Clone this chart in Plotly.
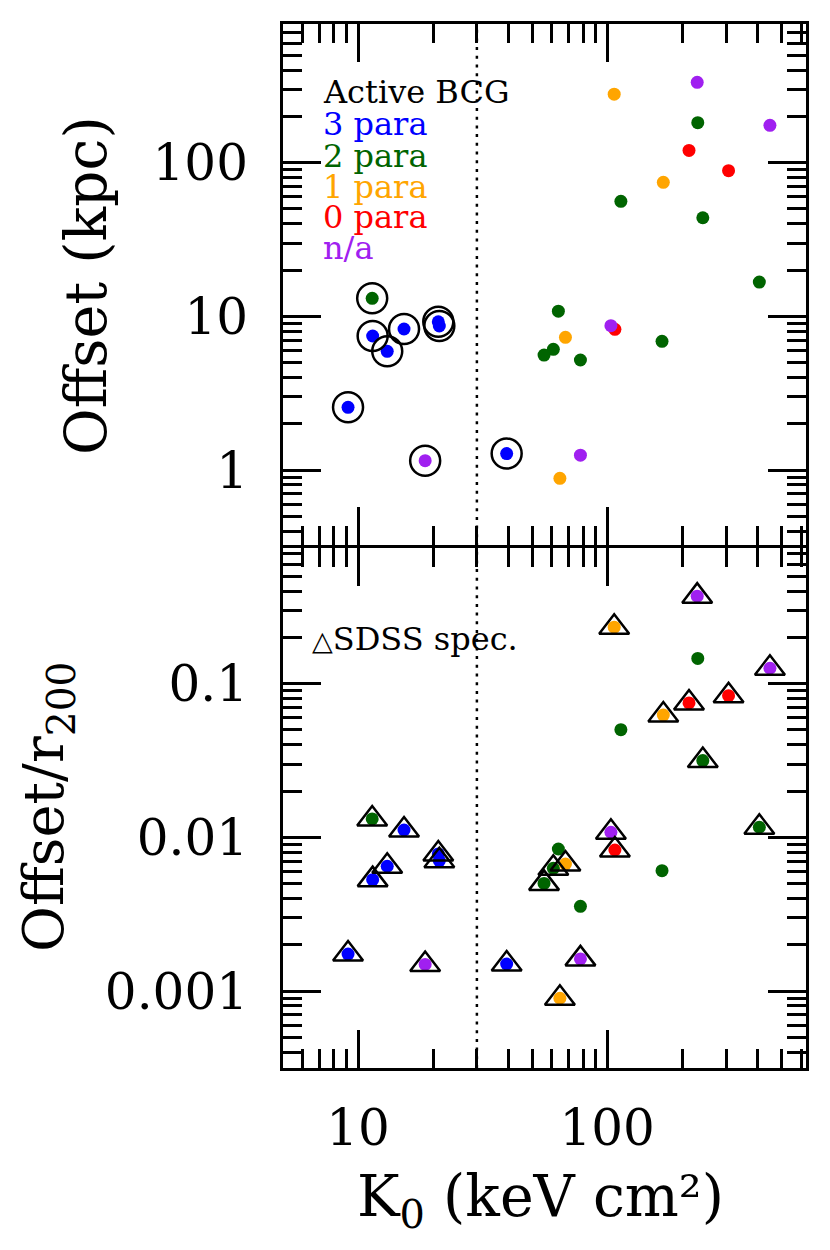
import math
import plotly.graph_objects as go

# ---- data ----
K0 = [106.7, 229.8, 231, 450, 213, 307, 168, 113.5, 242, 408,
      11.4, 11.45, 13.1, 15.3, 21.0, 21.2, 9.12, 18.6, 39.5,
      63.7, 103.5, 107.4, 68.0, 60.8, 55.8, 78.1, 166, 78.1, 64.6]
offset_kpc = [279, 333, 182, 175, 120, 88.6, 74.5, 56.0, 43.8, 16.7,
              13.1, 7.45, 5.92, 8.27, 9.22, 8.65, 2.56, 1.15, 1.28,
              10.8, 8.69, 8.23, 7.30, 6.10, 5.60, 5.20, 6.88, 1.25, 0.883]
offset_r200 = [0.233, 0.371, 0.146, 0.126, 0.0749, 0.0835, 0.0625, 0.0502, 0.0316, 0.01164,
               0.01318, 0.00531, 0.00649, 0.01117, 0.0078, 0.00705, 0.00174, 0.00149, 0.0015,
               0.0084, 0.0108, 0.00828, 0.00671, 0.00629, 0.00502, 0.00356, 0.00607, 0.00162, 0.000898]
n_para = ["1", "n/a", "2", "n/a", "0", "0", "1", "2", "2", "2",
          "2", "3", "3", "3", "3", "3", "3", "n/a", "3",
          "2", "n/a", "0", "1", "2", "2", "2", "2", "n/a", "1"]
active_bcg = [False] * 10 + [True] * 9 + [False] * 10
sdss_spec = [True, True, False, True, True, True, True, False, True, True,
             True, True, True, True, True, True, True, True, True,
             False, True, True, True, True, True, False, False, True, True]

categories = ["3", "2", "1", "0", "n/a"]
cat_labels = ["3 para", "2 para", "1 para", "0 para", "n/a"]
cat_colors = ["#0000ff", "#006400", "#ffa500", "#ff0000", "#a020f0"]
K0_divide = 30

x_ticks = [10, 100]
x_ticktext = ["10", "100"]
y1_ticks = [1, 10, 100]
y1_ticktext = ["1", "10", "100"]
y2_ticks = [0.001, 0.01, 0.1]
y2_ticktext = ["0.001", "0.01", "0.1"]

FONT = "DejaVu Serif"

# page body has an 8px default margin; figure sized to fit the 830x1250 window
W, H = 822, 1242
ML, MT = 275, 16
PW, PH = 523, 1044
MR = W - ML - PW
MB = H - MT - PH
GAP = 3.0  # px gap so the two axis lines at the panel boundary coincide

fig = go.Figure()

# colored dots
for cat, col in zip(categories, cat_colors):
    idx = [i for i, c in enumerate(n_para) if c == cat]
    fig.add_trace(go.Scatter(
        x=[K0[i] for i in idx], y=[offset_kpc[i] for i in idx],
        mode="markers", marker=dict(size=13, color=col),
        xaxis="x", yaxis="y", showlegend=False, hoverinfo="skip"))
    fig.add_trace(go.Scatter(
        x=[K0[i] for i in idx], y=[offset_r200[i] for i in idx],
        mode="markers", marker=dict(size=13, color=col),
        xaxis="x2", yaxis="y2", showlegend=False, hoverinfo="skip"))

# active BCG circles
ia = [i for i, a in enumerate(active_bcg) if a]
fig.add_trace(go.Scatter(
    x=[K0[i] for i in ia], y=[offset_kpc[i] for i in ia], mode="markers",
    marker=dict(symbol="circle-open", size=30, color="black", line=dict(width=2.5)),
    xaxis="x", yaxis="y", showlegend=False, hoverinfo="skip"))

# SDSS spec triangles
isd = [i for i, s in enumerate(sdss_spec) if s]
fig.add_trace(go.Scatter(
    x=[K0[i] for i in isd], y=[offset_r200[i] for i in isd], mode="markers",
    marker=dict(symbol="triangle-up-open", size=26, color="black", line=dict(width=2.5)),
    xaxis="x2", yaxis="y2", showlegend=False, hoverinfo="skip"))


def minor_vals(decades):
    return [m * d for d in decades for m in range(2, 10)]


axis_common = dict(
    type="log", showline=True, linewidth=3, linecolor="black", mirror="allticks",
    ticks="inside", ticklen=38, tickwidth=2.5, tickcolor="black",
    showgrid=False, zeroline=False, automargin=False,
    tickfont=dict(family=FONT, size=50, color="black"),
)
minor_common = dict(tickmode="array", ticks="inside", ticklen=19, tickwidth=2.5,
                    tickcolor="black", showgrid=False)

xr = [math.log10(5.0), math.log10(628)]
decade_px = 153.7
half = PH / 2 - GAP / 2
span = half / decade_px
y1_top = 2.902
y1_range = [y1_top - span, y1_top]
y2_top = -0.114
y2_range = [y2_top - span, y2_top]

fig.update_layout(
    width=W, height=H,
    margin=dict(l=ML, r=MR, t=MT, b=MB, pad=0),
    paper_bgcolor="white", plot_bgcolor="white",
    xaxis=dict(axis_common, domain=[0, 1], anchor="y", range=xr,
               tickmode="array", tickvals=x_ticks, ticktext=x_ticktext,
               showticklabels=False,
               minor=dict(minor_common, tickvals=minor_vals([1, 10, 100]))),
    xaxis2=dict(axis_common, domain=[0, 1], anchor="y2", range=xr,
                tickmode="array", tickvals=x_ticks, ticktext=x_ticktext,
                ticklabelstandoff=14,
                minor=dict(minor_common, tickvals=minor_vals([1, 10, 100]))),
    yaxis=dict(axis_common, domain=[1 - half / PH, 1], anchor="x", range=y1_range,
               tickmode="array", tickvals=y1_ticks, ticktext=y1_ticktext,
               ticklabelstandoff=22,
               minor=dict(minor_common, tickvals=minor_vals([0.1, 1, 10, 100]))),
    yaxis2=dict(axis_common, domain=[0, half / PH], anchor="x2", range=y2_range,
                tickmode="array", tickvals=y2_ticks, ticktext=y2_ticktext,
                ticklabelstandoff=22,
                minor=dict(minor_common, tickvals=minor_vals([0.0001, 0.001, 0.01, 0.1]))),
)

# dotted divider
fig.add_shape(type="line", xref="x", yref="paper", x0=K0_divide, x1=K0_divide, y0=0, y1=1,
              line=dict(color="black", width=2.5, dash="3px,5.7px"))


def px_x(px):  # reference page pixel -> paper
    return (px - 8 - ML) / PW


def px_y(py):
    return 1 - (py - 8 - MT) / PH


# legend texts
legend_rows = [("Active BCG", "black")] + list(zip(cat_labels, cat_colors))
row_y = [90, 122.5, 154, 185, 215, 246]
for (txt, col), yy in zip(legend_rows, row_y):
    fig.add_annotation(x=px_x(321), y=px_y(yy + 2), xref="paper", yref="paper",
                       text=txt, showarrow=False, xanchor="left", yanchor="middle",
                       font=dict(family=FONT, size=32, color=col))

fig.add_annotation(x=px_x(310), y=px_y(639), xref="paper", yref="paper",
                   text="<span style='font-size:27px'>△</span>SDSS spec.", showarrow=False,
                   xanchor="left", yanchor="middle",
                   font=dict(family=FONT, size=32, color="black"))

# axis titles
fig.add_annotation(x=px_x(86), y=px_y(286), xref="paper", yref="paper",
                   text="Offset (kpc)", textangle=-90, showarrow=False,
                   xanchor="center", yanchor="middle",
                   font=dict(family=FONT, size=57, color="black"))
fig.add_annotation(x=px_x(47), y=px_y(807), xref="paper", yref="paper",
                   text="Offset/r<sub>200</sub>", textangle=-90, showarrow=False,
                   xanchor="center", yanchor="middle",
                   font=dict(family=FONT, size=56, color="black"))
fig.add_annotation(x=px_x(540), y=px_y(1200), xref="paper", yref="paper",
                   text="K<sub>0</sub> (keV cm²)", showarrow=False,
                   xanchor="center", yanchor="middle",
                   font=dict(family=FONT, size=57, color="black"))

fig.write_html("out.html")
